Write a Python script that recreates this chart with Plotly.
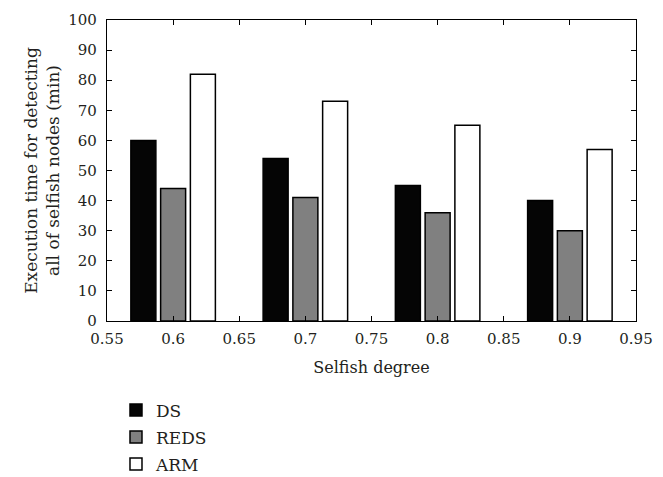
import plotly.graph_objects as go

degrees = [0.6, 0.7, 0.8, 0.9]
ds_values = [60, 54, 45, 40]
reds_values = [44, 41, 36, 30]
arm_values = [82, 73, 65, 57]
x_tickvals = [0.55, 0.6, 0.65, 0.7, 0.75, 0.8, 0.85, 0.9, 0.95]
x_ticktext = ["0.55", "0.6", "0.65", "0.7", "0.75", "0.8", "0.85", "0.9", "0.95"]
y_tickvals = [0, 10, 20, 30, 40, 50, 60, 70, 80, 90, 100]

font_family = "DejaVu Serif"
text_color = "#231f20"

fig = go.Figure()
for name, vals, color in [("DS", ds_values, "#050505"),
                          ("REDS", reds_values, "#808080"),
                          ("ARM", arm_values, "#ffffff")]:
    fig.add_trace(go.Bar(
        x=degrees, y=vals, name=name, legendgroup=name,
        marker=dict(color=color, line=dict(color="#000000", width=1.5)),
    ))

fig.update_layout(
    width=663, height=477,
    margin=dict(l=99, r=35, t=12, b=164, autoexpand=False),
    paper_bgcolor="white", plot_bgcolor="white",
    barmode="group", bargap=0.325, bargroupgap=0.16,
    font=dict(family=font_family, size=15, color=text_color),
    showlegend=True,
    legend=dict(x=0.017, y=-0.237, xanchor="left", yanchor="top",
                orientation="v", traceorder="grouped", tracegroupgap=2,
                font=dict(family=font_family, size=17, color=text_color),
                bgcolor="rgba(0,0,0,0)", itemwidth=30),
)
fig.update_xaxes(
    range=[0.55, 0.95], tickvals=x_tickvals, ticktext=x_ticktext,
    ticks="inside", ticklen=5, tickcolor="#000", tickwidth=1,
    ticklabelstandoff=4,
    showline=True, linecolor="#000", linewidth=1.2, mirror="ticks",
    showgrid=False, zeroline=False,
    title=dict(text="Selfish degree", font=dict(size=16), standoff=14),
)
fig.update_yaxes(
    range=[0, 100], tickvals=y_tickvals,
    ticks="inside", ticklen=5, tickcolor="#000", tickwidth=1,
    ticklabelstandoff=6,
    showline=True, linecolor="#000", linewidth=1.2, mirror="ticks",
    showgrid=False, zeroline=False,
    title=dict(text="Execution time for detecting<br>all of selfish nodes (min)",
               font=dict(size=17), standoff=4),
)

fig.write_html("out.html")
